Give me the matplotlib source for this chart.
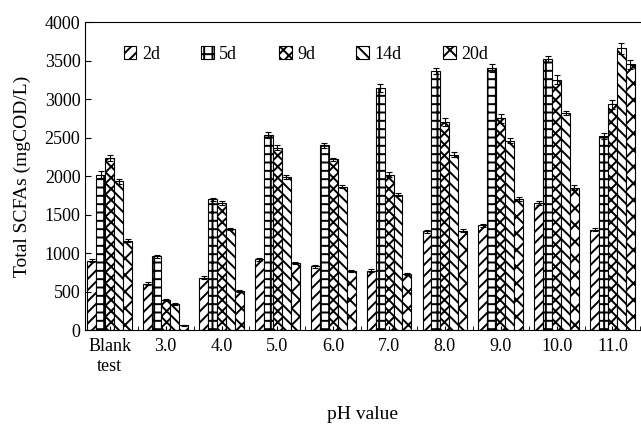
import matplotlib
matplotlib.use("Agg")
import matplotlib.pyplot as plt
import numpy as np

categories = ["Blank\ntest", "3.0", "4.0", "5.0", "6.0", "7.0", "8.0", "9.0", "10.0", "11.0"]
series = ["2d", "5d", "9d", "14d", "20d"]
v2d = [900, 600, 680, 920, 830, 770, 1280, 1360, 1650, 1300]
v5d = [2020, 960, 1700, 2530, 2400, 3140, 3370, 3400, 3520, 2520]
v9d = [2230, 390, 1650, 2370, 2220, 2020, 2700, 2750, 3250, 2930]
v14d = [1930, 340, 1310, 1990, 1860, 1760, 2280, 2460, 2820, 3660]
v20d = [1160, 60, 510, 870, 770, 730, 1290, 1700, 1850, 3450]
e2d = [20, 20, 20, 20, 20, 20, 20, 20, 20, 20]
e5d = [40, 20, 20, 40, 30, 50, 40, 50, 40, 40]
e9d = [40, 10, 20, 30, 20, 30, 50, 60, 60, 60]
e14d = [30, 10, 10, 30, 20, 20, 30, 30, 30, 70]
e20d = [20, 5, 10, 10, 10, 10, 20, 30, 30, 60]

values = [v2d, v5d, v9d, v14d, v20d]
errors = [e2d, e5d, e9d, e14d, e20d]
hatches = ["///", "++", "xxx", "\\\\\\", "xx"]

plt.rcParams['font.family'] = ['Liberation Serif', 'DejaVu Serif']
plt.rcParams['hatch.linewidth'] = 1.4

fig = plt.figure(figsize=(6.41, 4.25), dpi=100)
ax = fig.add_axes([0.133, 0.2235, 0.866, 0.7245])

x = np.arange(len(categories))
w = 0.16
for i, (vals, errs, h, name) in enumerate(zip(values, errors, hatches, series)):
    ax.bar(x + (i - 2) * w, vals, w, color="white", edgecolor="black", hatch=h,
           linewidth=0.8, label=name, yerr=errs,
           error_kw=dict(ecolor="black", elinewidth=0.8, capsize=2.5, capthick=0.8))

ax.set_xlim(-0.44, 9.28)
ax.set_ylim(0, 4000)
ax.set_yticks(np.arange(0, 4001, 500))
ax.set_xticks(x)
ax.set_xticklabels(categories, fontsize=13)
ax.tick_params(axis='y', direction='in', labelsize=13, length=4)
ax.tick_params(axis='x', direction='in', length=3, pad=6)
ax.set_xticks(x + 0.5, minor=True)
ax.tick_params(axis='x', which='minor', direction='in', length=3)
ax.spines['right'].set_visible(False)
ax.set_ylabel("Total SCFAs (mgCOD/L)", fontsize=14, labelpad=10)
ax.set_xlabel("pH value", fontsize=14, labelpad=22)

leg = ax.legend(loc='upper left', bbox_to_anchor=(0.04, 0.975), ncol=5, frameon=False,
                fontsize=13, handlelength=0.7, handleheight=0.7, columnspacing=2.3,
                handletextpad=0.3)

fig.savefig("out.png", dpi=100)
